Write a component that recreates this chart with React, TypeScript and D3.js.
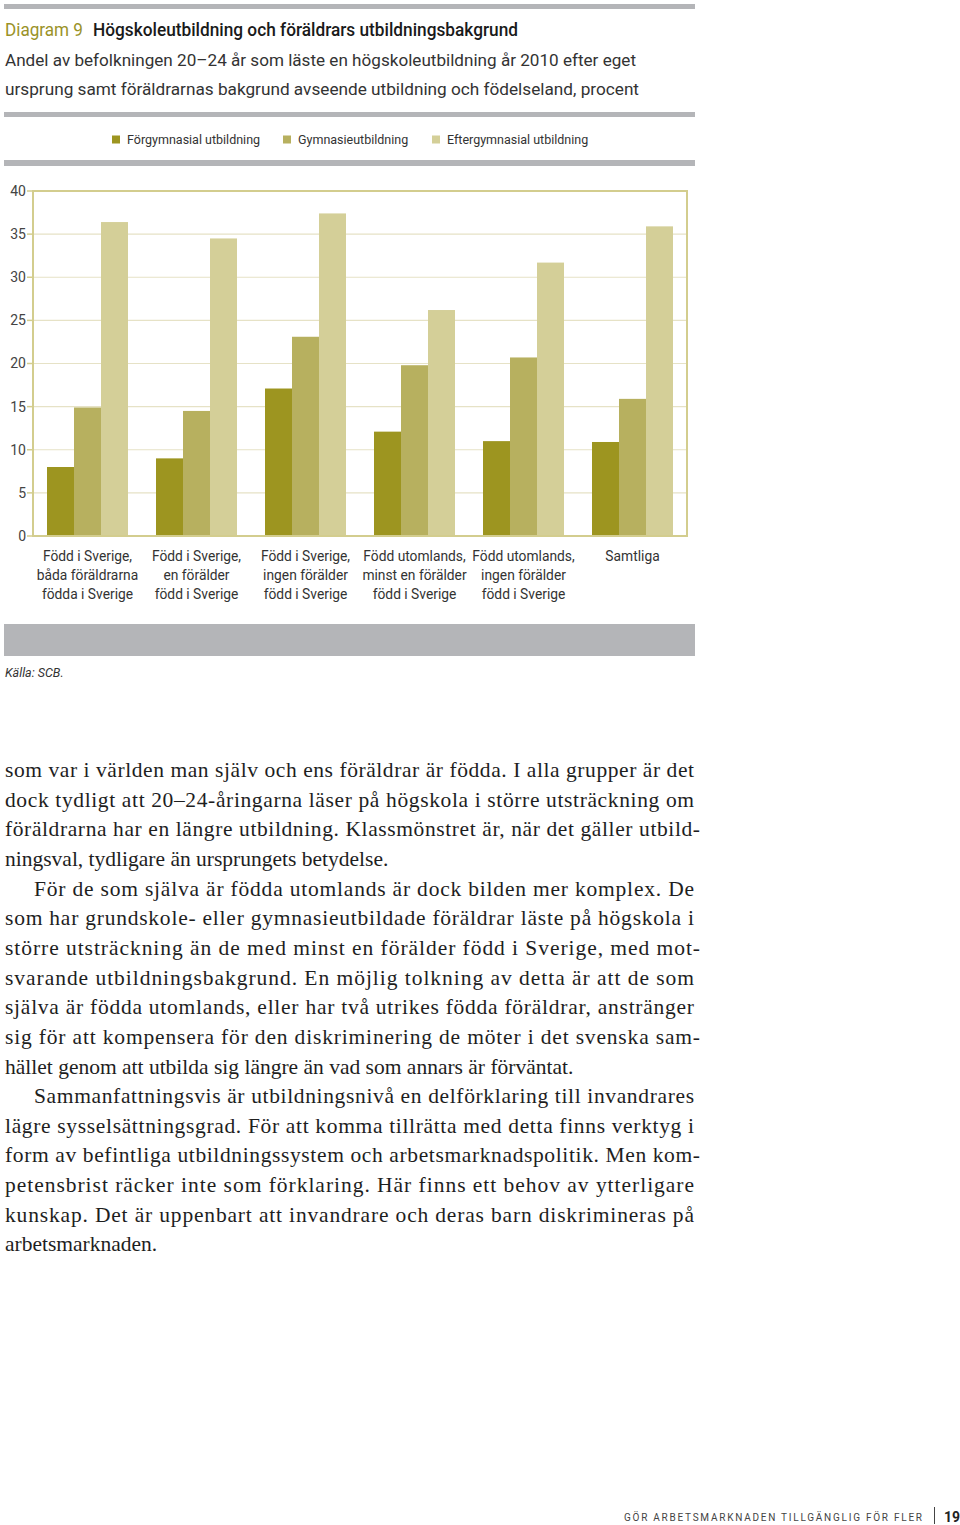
import React from "react";
import * as d3 from "d3";

const categories: string[][] = [
  ["Född i Sverige,", "båda föräldrarna", "födda i Sverige"],
  ["Född i Sverige,", "en förälder", "född i Sverige"],
  ["Född i Sverige,", "ingen förälder", "född i Sverige"],
  ["Född utomlands,", "minst en förälder", "född i Sverige"],
  ["Född utomlands,", "ingen förälder", "född i Sverige"],
  ["Samtliga"],
];
const seriesNames = ["Förgymnasial utbildning", "Gymnasieutbildning", "Eftergymnasial utbildning"];
const forgymnasial = [8.0, 9.0, 17.1, 12.1, 11.0, 10.9];
const gymnasie = [14.9, 14.5, 23.1, 19.8, 20.7, 15.9];
const eftergymnasial = [36.4, 34.5, 37.4, 26.2, 31.7, 35.9];
const yTicks = [0, 5, 10, 15, 20, 25, 30, 35, 40];
const colors = ["#9d9520", "#b7b05f", "#d4cf98"];

const bodyLines: { t: string; indent?: boolean; last?: boolean; hy?: boolean }[] = [
  { t: "som var i världen man själv och ens föräldrar är födda. I alla grupper är det" },
  { t: "dock tydligt att 20–24-åringarna läser på högskola i större utsträckning om" },
  { t: "föräldrarna har en längre utbildning. Klassmönstret är, när det gäller utbild-", hy: true },
  { t: "ningsval, tydligare än ursprungets betydelse.", last: true },
  { t: "För de som själva är födda utomlands är dock bilden mer komplex. De", indent: true },
  { t: "som har grundskole- eller gymnasieutbildade föräldrar läste på högskola i" },
  { t: "större utsträckning än de med minst en förälder född i Sverige, med mot-", hy: true },
  { t: "svarande utbildningsbakgrund. En möjlig tolkning av detta är att de som" },
  { t: "själva är födda utomlands, eller har två utrikes födda föräldrar, anstränger" },
  { t: "sig för att kompensera för den diskriminering de möter i det svenska sam-", hy: true },
  { t: "hället genom att utbilda sig längre än vad som annars är förväntat.", last: true },
  { t: "Sammanfattningsvis är utbildningsnivå en delförklaring till invandrares", indent: true },
  { t: "lägre sysselsättningsgrad. För att komma tillrätta med detta finns verktyg i" },
  { t: "form av befintliga utbildningssystem och arbetsmarknadspolitik. Men kom-", hy: true },
  { t: "petensbrist räcker inte som förklaring. Här finns ett behov av ytterligare" },
  { t: "kunskap. Det är uppenbart att invandrare och deras barn diskrimineras på" },
  { t: "arbetsmarknaden.", last: true },
];

export default function App() {
  const W = 960, H = 1525;
  const left = 33, right = 687, top = 191, bottom = 536;
  const sans = "Roboto, 'Open Sans', sans-serif";
  const serif = "'Liberation Serif', 'DejaVu Serif', serif";
  const data = [forgymnasial, gymnasie, eftergymnasial];

  const x0 = d3.scaleBand<number>()
    .domain(categories.map((_, i) => i))
    .range([left, right])
    .paddingInner(0.257)
    .paddingOuter(0.1285);
  const x1 = d3.scaleBand<number>()
    .domain(seriesNames.map((_, i) => i))
    .range([0, x0.bandwidth()]);
  const y = d3.scaleLinear().domain([0, 40]).range([bottom, top]);

  const legendX = [112, 283, 432];
  const gray = "#b4b5b8";
  const frame = "#d3cd8e";

  return (
    <svg width={W} height={H} style={{ position: "absolute", left: 0, top: 0, background: "#fff" }}>
      {/* header bars */}
      <rect x={4} y={4} width={691} height={5} fill={gray} />
      <text x={5} y={36} fontFamily={sans} fontSize={18} fill="#9a9228"
        textLength={78} lengthAdjust="spacingAndGlyphs">Diagram 9</text>
      <text x={93} y={36} fontFamily={sans} fontSize={18} fontWeight={500} fill="#1a1a1a"
        textLength={425} lengthAdjust="spacingAndGlyphs">Högskoleutbildning och föräldrars utbildningsbakgrund</text>
      <text x={5} y={66} fontFamily={sans} fontSize={17} fill="#333"
        textLength={631} lengthAdjust="spacingAndGlyphs">Andel av befolkningen 20–24 år som läste en högskoleutbildning år 2010 efter eget</text>
      <text x={5} y={95} fontFamily={sans} fontSize={17} fill="#333"
        textLength={634} lengthAdjust="spacingAndGlyphs">ursprung samt föräldrarnas bakgrund avseende utbildning och födelseland, procent</text>
      <rect x={4} y={112} width={691} height={5} fill={gray} />

      {/* legend */}
      {seriesNames.map((n, i) => (
        <g key={n}>
          <rect x={legendX[i]} y={135.5} width={8} height={8} fill={colors[i]} />
          <text x={legendX[i] + 15} y={144} fontFamily={sans} fontSize={12.5} fill="#333">{n}</text>
        </g>
      ))}
      <rect x={4} y={160} width={691} height={6} fill={gray} />

      {/* gridlines */}
      {yTicks.map((t) => (
        <g key={t}>
          <line x1={left} x2={right} y1={y(t)} y2={y(t)} stroke="#e6e2c6" strokeWidth={1.2} />
          <line x1={left - 6} x2={left} y1={y(t)} y2={y(t)} stroke={frame} strokeWidth={1.5} />
          <text x={left - 7} y={y(t)} dy="0.35em" textAnchor="end" fontFamily={sans} fontSize={14} fill="#444">{t}</text>
        </g>
      ))}

      {/* bars */}
      {categories.map((_, ci) => (
        <g key={ci} transform={`translate(${x0(ci)},0)`}>
          {data.map((s, si) => (
            <rect key={si} x={x1(si)} width={x1.bandwidth()} y={y(s[ci])} height={y(0) - y(s[ci])} fill={colors[si]} />
          ))}
        </g>
      ))}

      {/* frame */}
      <rect x={left} y={top} width={right - left} height={bottom - top} fill="none" stroke={frame} strokeWidth={2} />

      {/* category labels */}
      {categories.map((lines, ci) => (
        <text key={ci} x={(x0(ci) as number) + x0.bandwidth() / 2} y={561} textAnchor="middle"
          fontFamily={sans} fontSize={13.8} fill="#333">
          {lines.map((l, li) => (
            <tspan key={li} x={(x0(ci) as number) + x0.bandwidth() / 2} y={561 + li * 19}>{l}</tspan>
          ))}
        </text>
      ))}

      <rect x={4} y={624} width={691} height={32} fill={gray} />
      <text x={5} y={677} fontFamily={sans} fontSize={12.5} fontStyle="italic" fill="#333">Källa: SCB.</text>

      {/* body text */}
      {bodyLines.map((l, i) => {
        const x = l.indent ? 34 : 5;
        const end = l.hy ? 700 : 694;
        return (
          <text key={i} x={x} y={777 + i * 29.65} fontFamily={serif} fontSize={21.5} fill="#1e1e1e"
            {...(l.last ? {} : { textLength: end - x, lengthAdjust: "spacing" })}>{l.t}</text>
        );
      })}

      {/* footer */}
      <text x={624} y={1521} fontFamily={sans} fontSize={10} fill="#444" letterSpacing={2}
        textLength={300} lengthAdjust="spacing">GÖR ARBETSMARKNADEN TILLGÄNGLIG FÖR FLER</text>
      <line x1={934.5} x2={934.5} y1={1507} y2={1524} stroke="#444" strokeWidth={1} />
      <text x={944} y={1522} fontFamily={sans} fontSize={14} fontWeight={700} fill="#222">19</text>
    </svg>
  );
}
